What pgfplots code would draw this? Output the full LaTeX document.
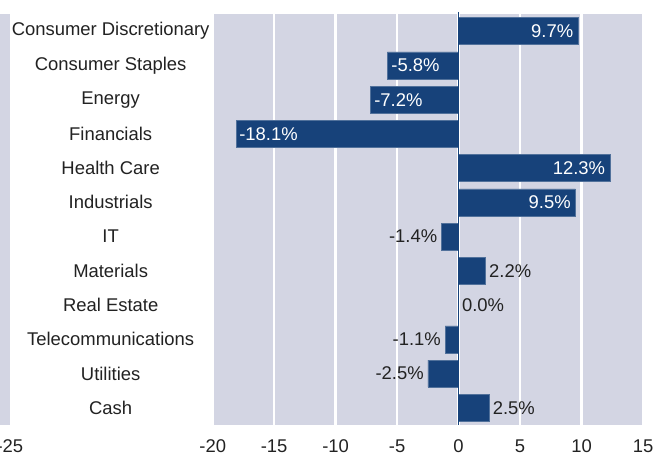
\documentclass[border=0pt]{standalone}
\usepackage{pgfplots}
\pgfplotsset{compat=1.18}
\usepackage{fontspec}
\setmainfont{Liberation Sans}
\definecolor{bg}{HTML}{D3D5E3}
\definecolor{barc}{HTML}{17427A}
\definecolor{txt}{HTML}{222222}
\begin{document}
\begin{tikzpicture}
\begin{axis}[
  scale only axis, width=643bp, height=411bp,
  xmin=-37.3, xmax=15, ymin=-0.5, ymax=11.5, y dir=reverse,
  axis background/.style={fill=bg},
  axis line style={draw=none},
  xtick={-20,-15,-10,-5,0,5,10,15},
  xticklabels={-20,-15,-10,-5,0,5,10,15},
  extra x ticks={-36.5},
  extra x tick labels={-25},
  extra x tick style={grid=none},
  ytick=\empty,
  major tick length=0pt,
  xmajorgrids=true,
  grid style={white, line width=2.5bp},
  font=\fontsize{18.5}{22}\selectfont,
  every tick label/.append style={text=txt},
  xticklabel style={yshift=-11.5bp},
  /pgf/number format/assume math mode=true,
  clip=false,
]
\fill[white] (axis cs:-36.5,-0.5) rectangle (axis cs:-20,11.5);
\addplot[xbar, bar width=0.79, fill=barc, draw=barc!75!white, line width=0.6bp] table {
x y
9.7 0
-5.8 1
-7.2 2
-18.1 3
12.3 4
9.5 5
-1.4 6
2.2 7
0.0 8
-1.1 9
-2.5 10
2.5 11
};
\draw[barc, line width=1.6bp] (axis cs:0,-0.56) -- (axis cs:0,11.5);
% value labels
\node[white, anchor=east, inner sep=4.5bp] at (axis cs:9.7,0) {9.7\%};
\node[white, anchor=west, inner sep=4bp] at (axis cs:-5.8,1) {-5.8\%};
\node[white, anchor=west, inner sep=4bp] at (axis cs:-7.2,2) {-7.2\%};
\node[white, anchor=west, inner sep=3bp] at (axis cs:-18.1,3) {-18.1\%};
\node[white, anchor=east, inner sep=4.5bp] at (axis cs:12.3,4) {12.3\%};
\node[white, anchor=east, inner sep=4.5bp] at (axis cs:9.5,5) {9.5\%};
\node[txt, anchor=east, inner sep=4bp] at (axis cs:-1.4,6) {-1.4\%};
\node[txt, anchor=west] at (axis cs:2.2,7) {2.2\%};
\node[txt, anchor=west] at (axis cs:0,8) {0.0\%};
\node[txt, anchor=east, inner sep=4bp] at (axis cs:-1.1,9) {-1.1\%};
\node[txt, anchor=east, inner sep=4bp] at (axis cs:-2.5,10) {-2.5\%};
\node[txt, anchor=west] at (axis cs:2.5,11) {2.5\%};
% category labels
\node[txt] at (axis cs:-28.3,0) {Consumer Discretionary};
\node[txt] at (axis cs:-28.3,1) {Consumer Staples};
\node[txt] at (axis cs:-28.3,2) {Energy};
\node[txt] at (axis cs:-28.3,3) {Financials};
\node[txt] at (axis cs:-28.3,4) {Health Care};
\node[txt] at (axis cs:-28.3,5) {Industrials};
\node[txt] at (axis cs:-28.3,6) {IT};
\node[txt] at (axis cs:-28.3,7) {Materials};
\node[txt] at (axis cs:-28.3,8) {Real Estate};
\node[txt] at (axis cs:-28.3,9) {Telecommunications};
\node[txt] at (axis cs:-28.3,10) {Utilities};
\node[txt] at (axis cs:-28.3,11) {Cash};
\end{axis}
\pgfresetboundingbox
\useasboundingbox ([yshift=-32bp]current axis.south west) rectangle ([xshift=12bp,yshift=14bp]current axis.north east);
\end{tikzpicture}
\end{document}
